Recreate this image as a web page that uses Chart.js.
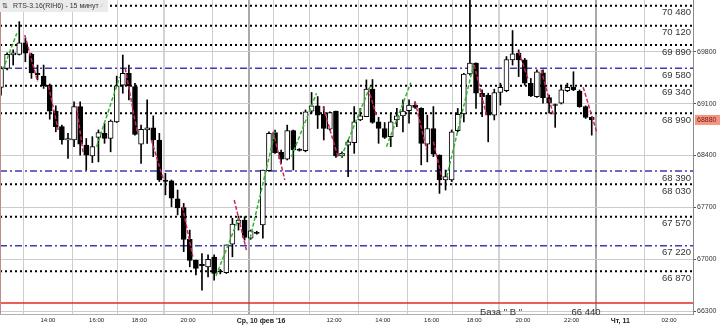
<!DOCTYPE html>
<html>
<head>
<meta charset="utf-8">
<script src="https://cdn.jsdelivr.net/npm/chart.js@4.4.1/dist/chart.umd.min.js"></script>
<style>
  html, body { margin: 0; padding: 0; background: #fff; }
  #wrap { width: 720px; height: 328px; }
</style>
</head>
<body>
<div id="wrap"><canvas id="rts" width="720" height="328"></canvas></div>
<script>
// RTS-3.16 (RIH6), 15 min candles
const opens  = [69320,69575,69755,69765,69920,69765,69510,69470,69350,69000,68790,68610,68610,69060,68540,68395,68645,68700,68630,68855,
                69350,69510,69330,68555,68745,68775,68610,68070,68060,67815,67700,67270,66990,66935,66900,67030,66835,66820,67205,67485,
                67530,67285,67360,67465,68195,68710,68445,68350,68735,68475,68465,69000,69070,68955,68755,69000,68395,68540,68575,68880,
                68925,69295,68855,68765,68655,68880,68935,69005,69080,69035,68555,68765,68405,68070,68070,68735,68960,69500,69645,69240,
                69215,68945,69250,69275,69690,69780,69690,69375,69195,69515,69180,69080,69105,69275,69320,69270,69060,68915];
const highs  = [69600,69785,69825,70205,69980,69780,69620,69620,69365,69070,68810,68700,69125,69125,68630,68655,68745,68835,68880,69470,
                69755,69620,69375,68810,69150,68935,68700,68160,68070,67935,67755,67395,66990,67080,67060,67060,66865,67195,67555,67585,
                67575,67395,67380,68205,68720,68745,68475,68810,68745,68495,69015,69250,69195,69060,68990,69000,68450,68610,69060,69035,
                69420,69425,68915,68845,68970,69035,69150,69150,69125,69045,68945,69060,68410,68205,68745,69035,69510,70500,69650,69285,
                69240,69295,69375,69735,70085,69825,69710,69440,69555,69555,69215,69095,69350,69375,69530,69285,69070,68925];
const lows   = [69215,69555,69620,69755,69665,69440,69420,69305,68890,68720,68555,68360,68520,68405,68205,68305,68315,68565,68450,68845,
                69240,69150,68675,68295,68565,68385,68050,67870,67710,67600,67105,66900,66790,66585,66765,66720,66805,66810,67035,67395,
                67260,67270,67340,67285,68185,68430,68295,68340,68205,68460,68450,68970,68765,68610,68745,68375,68375,68115,68430,68870,
                68925,68835,68565,68630,68520,68790,68720,68835,69035,68275,68315,68385,67890,67935,68050,68720,68855,69485,69035,68925,
                68585,68880,69080,69260,69620,69465,69350,69195,69185,69105,68970,68780,69095,69260,69275,69050,68900,68675];
const closes = [69575,69765,69785,69920,69780,69515,69490,69340,69000,68790,68610,68630,69060,68555,68405,68520,68710,68630,68865,69340,
                69510,69340,68685,68755,68775,68610,68070,68050,67825,67695,67270,66985,66880,66915,67000,66810,66830,67195,67475,67530,
                67295,67385,67350,68205,68700,68440,68350,68735,68475,68470,68990,69070,68945,68765,68980,68395,68430,68585,68855,68935,
                69295,68845,68765,68645,68855,68935,69000,69080,69050,68565,68765,68420,68070,68115,68720,68955,69500,69645,69240,69195,
                68945,69250,69320,69695,69770,69690,69375,69205,69530,69180,69105,69075,69285,69320,69285,69060,68915,68880];

// indicator strokes: [fromCandle, fromPrice, toCandle, toPrice]
const upSegments = [
  [0.3, 69553, 2.6, 70048], [15.7, 68520, 19.5, 69463], [35.3, 66776, 39.0, 67554],
  [40.9, 67284, 45.0, 68722], [47.7, 68385, 51.8, 69239], [55.9, 68385, 60.6, 69329],
  [63.3, 68520, 67.3, 69383], [73.2, 68115, 77.6, 69621]
];
const downSegments = [
  [3.9, 70025, 6.0, 69396], [7.8, 69338, 9.4, 68744], [12.4, 69059, 13.5, 68430],
  [20.4, 69576, 22.4, 68699], [24.7, 68610, 26.7, 68070], [29.8, 67711, 31.5, 67037],
  [38.3, 67801, 40.3, 67127], [44.7, 68722, 46.6, 68070], [52.9, 69059, 55.4, 68362],
  [60.3, 69306, 61.7, 68924], [68.0, 69126, 69.9, 68475], [71.0, 68587, 72.4, 68093],
  [77.7, 69621, 79.7, 68947], [85.0, 69800, 86.6, 69418], [88.7, 69553, 90.7, 68947],
  [95.6, 69320, 97.8, 68722]
];

// horizontal levels
const levelValues = [70421, 70151, 69890, 69576, 69342, 68969, 68192, 68012, 67576, 67185, 66839, 66412];
const levelKinds  = ['dot','dot','dot','dash','dot','dot','dash','dot','dot','dash','dot','base'];
const levelLabels = ['70 480','70 120','69 890','69 580','69 340','68 990','68 390','68 030','67 570','67 220','66 870','66 440'];
const baseName = 'База " В "';

// axes
const yTicks = [66300, 67000, 67700, 68400, 69100, 69800];
const tickSlots  = [8, 16, 23, 31, 39, 43, 47, 55, 63, 71, 78, 86, 94, 102, 110];
const tickLabels = ['14:00','16:00','18:00','20:00','',"Ср, 10 фев '16",'','12:00','14:00','16:00','18:00','20:00','22:00','Чт, 11','02:00'];
const dayTicks = ["Ср, 10 фев '16", 'Чт, 11'];
const title = 'RTS-3.16(RIH6) - 15 минут';

const X_MIN = -0.164, X_MAX = 113.63;
const Y_MIN = 66264, Y_MAX = 70497;

// ---- datasets ----
const idx = opens.map((_, i) => i);
const wickData = idx.map(i => ({ x: i, y: [lows[i], highs[i]] }));
const bodyData = idx.map(i => ({ x: i, y: [opens[i], closes[i]] }));
const bodyColors = idx.map(i => closes[i] >= opens[i] ? '#ffffff' : '#000000');

function segData(segs) {
  const out = [];
  segs.forEach(s => {
    out.push({ x: s[0], y: s[1] }, { x: s[2], y: s[3] }, { x: s[2] + 0.01, y: null });
  });
  return out;
}

const levelStyle = {
  dot:  { borderColor: '#000000', borderWidth: 2,   borderDash: [2, 3] },
  dash: { borderColor: '#3b3bb5', borderWidth: 1.5, borderDash: [7, 3, 2, 3] },
  base: { borderColor: '#e42a22', borderWidth: 1.5, borderDash: [] }
};

const levelSets = levelValues.map((v, k) => Object.assign({
  type: 'line',
  data: [{ x: X_MIN, y: v }, { x: X_MAX, y: v }],
  pointRadius: 0,
  order: 5
}, levelStyle[levelKinds[k]]));

// ---- plugin: texts drawn on top (level captions, title box, price tag) ----
const overlay = {
  id: 'overlay',
  afterDraw(chart) {
    const ctx = chart.ctx, area = chart.chartArea, ys = chart.scales.y;
    ctx.save();
    // left border
    ctx.strokeStyle = '#c08a8a';
    ctx.lineWidth = 1;
    ctx.beginPath(); ctx.moveTo(0.5, 0); ctx.lineTo(0.5, area.bottom); ctx.stroke();

    // level captions
    ctx.font = '9.5px "Liberation Sans", Arial, sans-serif';
    ctx.fillStyle = '#333';
    ctx.textBaseline = 'middle';
    levelValues.forEach((v, k) => {
      const y = ys.getPixelForValue(v);
      if (levelKinds[k] === 'base') {
        ctx.textAlign = 'left';
        ctx.fillText(baseName, 480, y + 9);
        ctx.textAlign = 'center';
        ctx.fillText(levelLabels[k], 586, y + 9);
      } else {
        ctx.textAlign = 'right';
        ctx.fillText(levelLabels[k], area.right - 2, y + 7);
      }
    });

    // title box
    ctx.fillStyle = '#ebebeb';
    ctx.fillRect(0, 0, 108, 12);
    ctx.fillStyle = '#333';
    ctx.font = '7px "Liberation Sans", Arial, sans-serif';
    ctx.textAlign = 'left';
    ctx.fillText('⇅', 2, 6);
    ctx.fillText(title, 13, 6);
    ctx.fillStyle = '#c8c8c8';
    ctx.fillText('✓', 99, 6);

    // last price tag on the right axis
    const last = closes[closes.length - 1];
    const py = ys.getPixelForValue(last);
    ctx.fillStyle = '#f39580';
    ctx.fillRect(area.right + 2, py - 5, 720 - area.right - 2, 10);
    ctx.fillStyle = '#7a1414';
    ctx.font = '7px "Liberation Sans", Arial, sans-serif';
    ctx.fillText(String(last), area.right + 4, py);
    ctx.restore();
  }
};

new Chart(document.getElementById('rts'), {
  type: 'bar',
  data: {
    datasets: [
      {
        type: 'line', data: segData(upSegments), borderColor: '#2fb52f', borderWidth: 1.5,
        borderDash: [4, 2], pointRadius: 0, spanGaps: false, order: 0
      },
      {
        type: 'line', data: segData(downSegments), borderColor: '#d0245e', borderWidth: 1.5,
        borderDash: [4, 2], pointRadius: 0, spanGaps: false, order: 0
      },
      {
        data: bodyData, backgroundColor: bodyColors, borderColor: '#000', borderWidth: 1,
        borderSkipped: false, barThickness: 5, minBarLength: 1, grouped: false, order: 1
      },
      {
        data: wickData, backgroundColor: '#000', borderWidth: 0,
        barThickness: 1, grouped: false, order: 2
      },
      ...levelSets
    ]
  },
  options: {
    responsive: false,
    animation: false,
    events: [],
    layout: { padding: 0 },
    plugins: { legend: { display: false }, tooltip: { enabled: false } },
    scales: {
      x: {
        type: 'linear',
        offset: false,
        min: X_MIN,
        max: X_MAX,
        afterBuildTicks: s => { s.ticks = tickSlots.map(t => ({ value: t - 0.3 })); },
        afterFit: s => { s.height = 14; s.paddingLeft = 0; s.paddingRight = 0; },
        grid: {
          drawTicks: false,
          color: c => dayTicks.includes(tickLabels[c.index]) ? '#a9a9a9'
                    : (tickLabels[c.index] === '20:00' ? '#d4d4d4' : '#cdcdcd'),
          lineWidth: c => (dayTicks.includes(tickLabels[c.index]) || tickLabels[c.index] === '20:00') ? 2 : 1
        },
        border: { display: true, color: '#b0b0b0' },
        ticks: {
          autoSkip: false,
          maxRotation: 0,
          padding: 3,
          color: '#222',
          font: c => dayTicks.includes(tickLabels[c.index])
            ? { family: '"Liberation Sans", Arial, sans-serif', size: 7, weight: 'bold' }
            : { family: '"Liberation Sans", Arial, sans-serif', size: 6 },
          callback: (v, i) => tickLabels[i]
        }
      },
      y: {
        position: 'right',
        min: Y_MIN,
        max: Y_MAX,
        afterBuildTicks: s => { s.ticks = yTicks.map(v => ({ value: v })); },
        afterFit: s => { s.width = 27; s.paddingTop = 0; s.paddingBottom = 0; },
        grid: { color: '#cccccc', lineWidth: 1, tickLength: 3, tickColor: '#555' },
        border: { display: true, color: '#8a8a8a' },
        ticks: {
          padding: 1,
          color: '#333',
          font: { family: '"Liberation Sans", Arial, sans-serif', size: 7 },
          callback: v => String(v)
        }
      }
    }
  },
  plugins: [overlay]
});
</script>
</body>
</html>
